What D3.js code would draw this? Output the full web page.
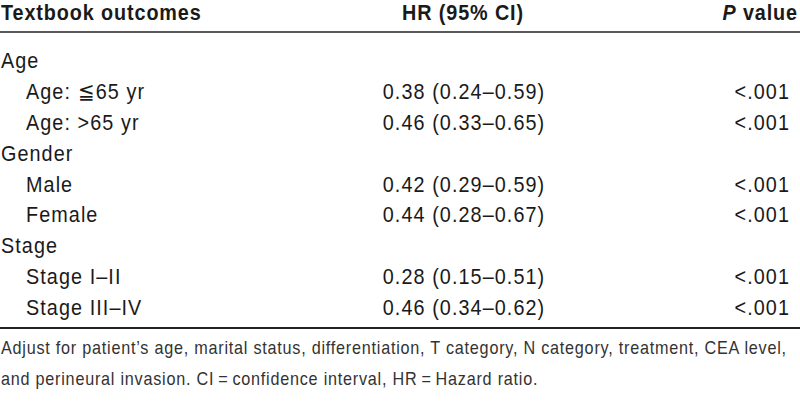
<!DOCTYPE html>
<html>
<head>
<meta charset="utf-8">
<script src="https://cdn.jsdelivr.net/npm/d3@7"></script>
<style>
  body { margin: 0; background: #fff; }
  text { font-family: "Liberation Sans", Arial, sans-serif; }
</style>
</head>
<body>
<div id="chart"></div>
<script>
const headers = ["Textbook outcomes", "HR (95% CI)", "P value"]
const rowLabels = ["Age", "Age: \u226665 yr", "Age: >65 yr", "Gender", "Male", "Female", "Stage", "Stage I\u2013II", "Stage III\u2013IV"]
const isGroup = [true, false, false, true, false, false, true, false, false]
const hrValues = [null, 0.38, 0.46, null, 0.42, 0.44, null, 0.28, 0.46]
const ciLower = [null, 0.24, 0.33, null, 0.29, 0.28, null, 0.15, 0.34]
const ciUpper = [null, 0.59, 0.65, null, 0.59, 0.67, null, 0.51, 0.62]
const pValues = [null, "<.001", "<.001", null, "<.001", "<.001", null, "<.001", "<.001"]
const footnote = [
  "Adjust for patient\u2019s age, marital status, differentiation, T category, N category, treatment, CEA level,",
  "and perineural invasion. CI\u2009=\u2009confidence interval, HR\u2009=\u2009Hazard ratio."
]

const width = 800, height = 410
const squeeze = 0.9   // condensed look: squash glyphs horizontally

let svg = d3.select("#chart")
  .append("svg")
  .attr("width", width)
  .attr("height", height)

// rows laid out with a point scale
let y = d3.scalePoint()
  .domain(d3.range(rowLabels.length))
  .range([60, 307])

let fmt = d3.format(".2f")

// put a condensed text at (x, y)
let label = (g, x, yy, anchor) => g.append("text")
  .attr("transform", `translate(${x}, ${yy}) scale(${squeeze}, 1)`)
  .attr("text-anchor", anchor || "start")

// header
let head = svg.append("g")
  .attr("font-size", "22px")
  .attr("font-weight", "bold")
  .attr("letter-spacing", "1px")
  .attr("fill", "#1a1a1a")

label(head, 1, 20).text(headers[0])
label(head, 463, 20, "middle").text(headers[1])
label(head, 798, 20, "end")
  .call(t => t.append("tspan").attr("font-style", "italic").text("P"))
  .call(t => t.append("tspan").text(" value"))

// rules
svg.append("line").attr("x1", 0).attr("x2", width).attr("y1", 32).attr("y2", 32)
  .attr("stroke", "#222").attr("stroke-width", 1.5)
svg.append("line").attr("x1", 0).attr("x2", width).attr("y1", 328).attr("y2", 328)
  .attr("stroke", "#222").attr("stroke-width", 2)

// body rows
let rows = svg.append("g")
  .attr("font-size", "22px")
  .attr("letter-spacing", "1.2px")
  .attr("fill", "#1a1a1a")
  .selectAll("g")
  .data(rowLabels.map((label, i) => ({
    label, group: isGroup[i], hr: hrValues[i], lo: ciLower[i], hi: ciUpper[i], p: pValues[i], i
  })))
  .join("g")

rows.each(function(d) {
  let g = d3.select(this)
  let yy = y(d.i) + 8
  label(g, d.group ? 1 : 26, yy).text(d.label)
  if (d.hr != null)
    label(g, 464, yy, "middle").text(`${fmt(d.hr)} (${fmt(d.lo)}\u2013${fmt(d.hi)})`)
  if (d.p != null)
    label(g, 790, yy, "end").text(d.p)
})

// footnote
let foot = svg.append("g")
  .attr("font-size", "18px")
  .attr("letter-spacing", "0.85px")
  .attr("fill", "#333")

footnote.forEach((line, i) => label(foot, 1, 354 + i * 31).text(line))
</script>
</body>
</html>
